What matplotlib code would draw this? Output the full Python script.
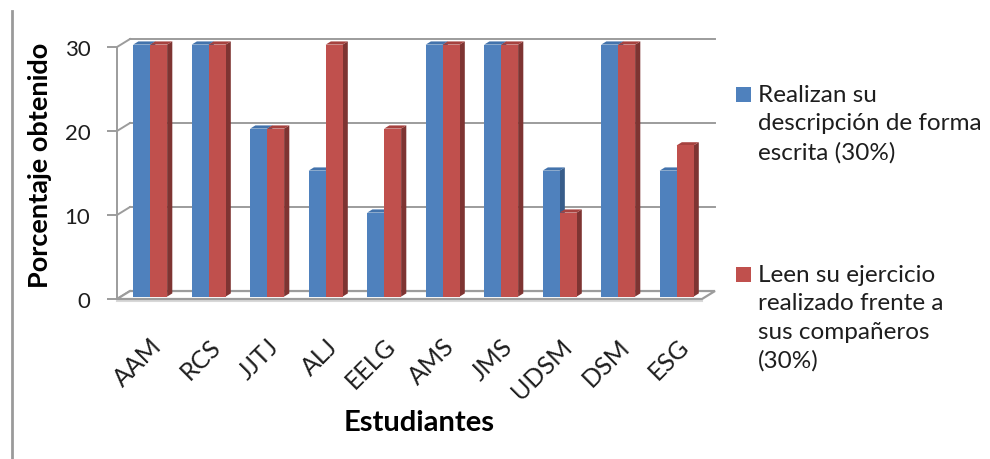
import numpy as np
import matplotlib.pyplot as plt
from matplotlib.patches import Polygon, Rectangle
from matplotlib.lines import Line2D

estudiantes = ['AAM', 'RCS', 'JJTJ', 'ALJ', 'EELG', 'AMS', 'JMS', 'UDSM', 'DSM', 'ESG']
descripcion_escrita = [30, 30, 20, 15, 10, 30, 30, 15, 30, 15]
lectura_frente = [30, 30, 20, 30, 20, 30, 30, 10, 30, 18]
nombres_series = ['Realizan su\ndescripción de forma\nescrita (30%)',
                  'Leen su ejercicio\nrealizado frente a\nsus compañeros\n(30%)']
marcas_y = [0, 10, 20, 30]

plt.rcParams['font.family'] = ['Lato', 'DejaVu Sans']

# front, side, top colour for each series
colores = [('#4F81BD', '#385D8A', '#4373AC'),
           ('#C0504D', '#7E3432', '#A6423F')]
gris = '#9C9C9C'
texto = '#1E1E1E'

fig = plt.figure(figsize=(9.9, 4.6), dpi=100)
ax = fig.add_axes([117 / 990, 160 / 460, 585 / 990, 252 / 460])

n = len(estudiantes)
x0, x1 = -0.5, n - 0.5
ax.set_xlim(x0, x1)
ax.set_ylim(0, 30)
for sp in ax.spines.values():
    sp.set_visible(False)

# depth of the 3d box in data units
dx, dy = 0.222, 0.95

# back wall gridlines + left wall diagonals
for v in marcas_y:
    if v > 0:
        ax.plot([x0 + dx, x1 + dx], [v + dy, v + dy], color=gris, lw=1.4,
                clip_on=False, zorder=0.5)
    ax.plot([x0, x0 + dx], [v, v + dy], color=gris, lw=1.4, clip_on=False, zorder=0.5)
ax.plot([x0, x0], [0, 30], color=gris, lw=1.4, clip_on=False, zorder=0.5)

# floor, with a faint shadow under its front edge
ax.plot([x0, x1], [-0.25, -0.25], color='#D8D8D8', lw=1.5, clip_on=False, zorder=0.9)
piso = Polygon([(x0, 0), (x1, 0), (x1 + dx, dy), (x0 + dx, dy)], closed=True,
               facecolor='white', edgecolor=gris, lw=1.6, clip_on=False, zorder=1)
ax.add_patch(piso)

# bars: front face from ax.bar, side and top faces as polygons
f, bd, w = 0.3, 0.4, 0.29
for s, valores in enumerate([descripcion_escrita, lectura_frente]):
    frente, lado, tapa = colores[s]
    izq = np.arange(n) - w + s * w + f * dx
    barras = ax.bar(izq, valores, width=w, bottom=f * dy, align='edge',
                    color=frente, lw=0, clip_on=False)
    for i, (r, h) in enumerate(zip(barras, valores)):
        z = 2 + i * 0.1 + s * 0.05
        r.set_zorder(z)
        xl = r.get_x()
        xr = xl + w
        b = r.get_y()
        t = b + h
        ax.add_patch(Polygon([(xr, b), (xr + bd * dx, b + bd * dy),
                              (xr + bd * dx, t + bd * dy), (xr, t)],
                             closed=True, facecolor=lado, lw=0, clip_on=False,
                             zorder=z - 0.01))
        ax.add_patch(Polygon([(xl, t), (xl + bd * dx, t + bd * dy),
                              (xr + bd * dx, t + bd * dy), (xr, t)],
                             closed=True, facecolor=tapa, lw=0, clip_on=False,
                             zorder=z - 0.01))

ax.set_yticks(marcas_y)
ax.tick_params(axis='y', length=7.2, width=1.4, color=gris, pad=12,
               labelsize=16, labelcolor=texto)
# category labels end under the middle of each pair of bars
ax.set_xticks(np.arange(n) + f * dx)
ax.set_xticklabels(estudiantes, rotation=45, ha='right', va='top',
                   rotation_mode='anchor')
ax.tick_params(axis='x', length=0, pad=25, labelsize=18, labelcolor=texto)

ax.set_ylabel('Porcentaje obtenido', fontsize=19.5, fontweight='bold', color='black')
ax.yaxis.set_label_coords(-0.111, 0.536)
ax.set_xlabel('Estudiantes', fontsize=21, fontweight='bold', color='black')
ax.xaxis.set_label_coords(0.516, -0.437)

# legend on the right, square next to the first line of each label
for s, (nombre, ytop) in enumerate(zip(nombres_series, [88, 268])):
    fig.patches.append(Rectangle((736 / 990, 1 - (ytop + 15) / 460), 15 / 990, 15 / 460,
                                 transform=fig.transFigure, facecolor=colores[s][0],
                                 lw=0))
    fig.text(758 / 990, 1 - (ytop - 3) / 460, nombre, fontsize=17.5, va='top',
             ha='left', linespacing=1.43, color=texto)

# frame line on the left
fig.add_artist(Line2D([12 / 990, 12 / 990], [0, 1 - 12 / 460], color='#9A9A9A', lw=2,
                      transform=fig.transFigure))

plt.savefig('out.png', dpi=100)
